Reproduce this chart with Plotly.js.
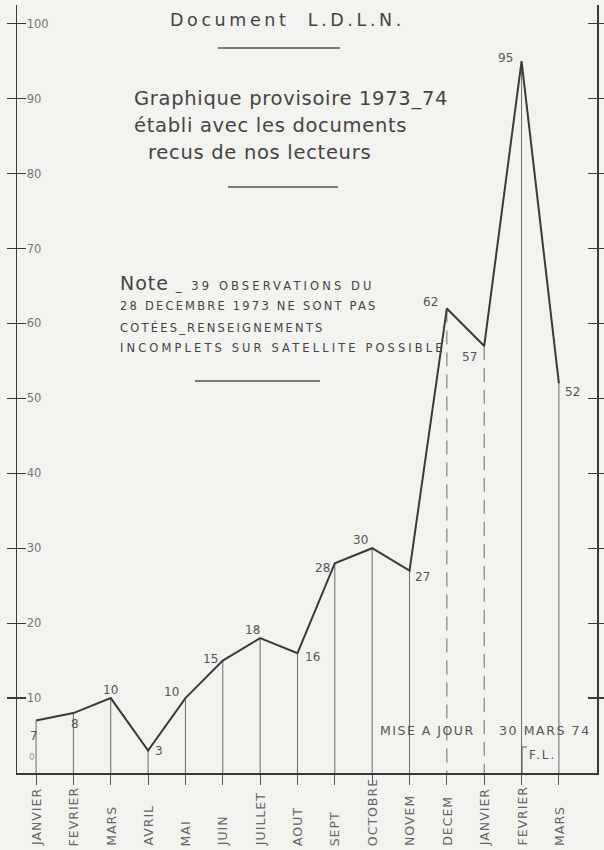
<!DOCTYPE html>
<html>
<head>
<meta charset="utf-8">
<script src="https://cdn.plot.ly/plotly-3.0.1.min.js"></script>
<style>html,body{margin:0;padding:0;background:#f3f3f0;}</style>
</head>
<body>
<div id="chart" style="width:604px;height:850px;"></div>
<script>
// ---- data ----
const months = ["JANVIER","FEVRIER","MARS","AVRIL","MAI","JUIN","JUILLET","AOUT","SEPT","OCTOBRE","NOVEM","DECEM","JANVIER","FEVRIER","MARS"];
const observations = [7, 8, 10, 3, 10, 15, 18, 16, 28, 30, 27, 62, 57, 95, 52];
const yTicks = [10, 20, 30, 40, 50, 60, 70, 80, 90, 100];
const dashedMonths = [11, 12]; // DECEM, JANVIER 74 drawn with broken drop lines

// ---- label offsets (px, style only) ----
const labelShift = [[-2,-15],[2,-11],[0,8],[11,0],[-14,6],[-12,2],[-8,8],[15,-4],[-12,-5],[-12,8],[13,-6],[-16,6],[-15,-11],[-16,3],[14,-9]];

const L = 17, R = 597, T = 5, B = 773, W = 604, H = 850;
const px = x => (x - L) / (R - L);
const py = y => (B - y) / (B - T);

const idx = months.map((m, i) => i);

// drop lines built from data
const solidX = [], solidY = [], dashX = [], dashY = [];
idx.forEach(i => {
  const tx = dashedMonths.includes(i) ? dashX : solidX;
  const ty = dashedMonths.includes(i) ? dashY : solidY;
  tx.push(i, i, null); ty.push(observations[i], 0, null);
});

const traces = [
  {x: solidX, y: solidY, mode: 'lines', line: {color: '#6a6a6a', width: 1}, hoverinfo: 'skip', showlegend: false},
  {x: dashX, y: dashY, mode: 'lines', line: {color: '#6a6a6a', width: 1, dash: '14px,8px'}, hoverinfo: 'skip', showlegend: false},
  {x: idx, y: observations, mode: 'lines', line: {color: '#3a3a3a', width: 2}, showlegend: false},
  {x: [0], y: [0], mode: 'markers', marker: {opacity: 0}, yaxis: 'y2', hoverinfo: 'skip', showlegend: false}
];

const textColor = '#555';
const font = 'DejaVu Sans, sans-serif';
const annotations = [];
const sp = (t, s) => '<span style="letter-spacing:' + s + 'px">' + t + '</span>';

// data labels
idx.forEach(i => {
  annotations.push({x: i, y: observations[i], xref: 'x', yref: 'y', text: String(observations[i]), showarrow: false,
    xshift: labelShift[i][0], yshift: labelShift[i][1], font: {family: font, size: 12, color: textColor}});
});
// rotated month labels
idx.forEach(i => {
  annotations.push({x: i, y: py(848), xref: 'x', yref: 'paper', text: sp(months[i], 1), textangle: -90, showarrow: false,
    xanchor: 'center', yanchor: 'bottom', font: {family: font, size: 12.5, color: '#666'}});
});
// zero label
annotations.push({x: px(27), y: py(764), xref: 'paper', yref: 'paper', text: '0', showarrow: false, font: {family: font, size: 9, color: '#999'}});

// texts
function txt(t, x, y, size, anchor, color) {
  annotations.push({x: px(x), y: py(y), xref: 'paper', yref: 'paper', text: t, showarrow: false,
    xanchor: anchor || 'left', yanchor: 'middle', font: {family: font, size: size, color: color || '#444'}});
}
txt(sp('Document  L.D.L.N.', 3.6), 168, 20, 17.5);
txt(sp('Graphique provisoire 1973_74', 0.7), 132, 98, 19.5);
txt(sp('établi avec les documents', 0.7), 132, 125, 19.5);
txt(sp('recus de nos lecteurs', 0.7), 146, 152, 19.5);
txt(sp('Note', 1) + '<span style="font-size:11.5px;letter-spacing:3.1px"> _ 39 OBSERVATIONS DU</span>', 118, 283, 19);
txt(sp('28 DECEMBRE 1973 NE SONT PAS', 2.2), 118, 306, 11.5);
txt(sp('COTÉES_RENSEIGNEMENTS', 2.2), 118, 327, 11.5);
txt(sp('INCOMPLETS SUR SATELLITE POSSIBLE', 3.1), 118, 348, 11.5);
txt(sp('MISE A JOUR', 1.5), 378, 730, 12.5, 'left', '#555');
txt(sp('30 MARS 74', 1.6), 497, 730, 12.5, 'left', '#555');
txt(sp('F.L.', 2), 527, 755, 12, 'left', '#555');

function hline(x0, x1, y) {
  return {type: 'line', xref: 'paper', yref: 'paper', x0: px(x0), x1: px(x1), y0: py(y), y1: py(y), line: {color: '#555', width: 1.5}};
}
const shapes = [hline(218, 340, 48), hline(228, 338, 187), hline(195, 320, 381),
  {type: 'line', xref: 'paper', yref: 'paper', x0: px(522), x1: px(522), y0: py(773), y1: py(747), line: {color: '#555', width: 1}},
  {type: 'line', xref: 'paper', yref: 'paper', x0: px(522), x1: px(527), y0: py(747), y1: py(747), line: {color: '#555', width: 1}}
];

const layout = {
  width: W, height: H,
  margin: {l: L, r: W - R, t: T, b: H - B, pad: 0},
  paper_bgcolor: '#f3f3f0', plot_bgcolor: '#f3f3f0',
  showlegend: false,
  xaxis: {range: [-0.51, 15.02], tickvals: idx, ticktext: months, showticklabels: false, ticks: 'outside', ticklen: 10,
    tickcolor: '#555', tickwidth: 1, showline: true, linecolor: '#3a3a3a', linewidth: 1.5, showgrid: false, zeroline: false, fixedrange: true},
  yaxis: {range: [0, 102.5], tickvals: yTicks, ticks: 'outside', ticklen: 9, tickcolor: '#3a3a3a', tickwidth: 1.2,
    ticklabelposition: 'inside', ticklabeloverflow: 'allow', ticklabelstandoff: 9, tickfont: {family: font, size: 11.5, color: '#777'},
    showline: true, mirror: 'ticks', linecolor: '#3a3a3a', linewidth: 1.5, showgrid: false, zeroline: false},
  yaxis2: {range: [0, 102.5], overlaying: 'y', side: 'left', tickvals: yTicks, ticks: 'inside', ticklen: 9, tickcolor: '#3a3a3a',
    tickwidth: 1.2, showticklabels: false, mirror: 'ticks', showline: false, showgrid: false, zeroline: false},
  annotations: annotations,
  shapes: shapes
};

Plotly.newPlot('chart', traces, layout, {displayModeBar: false, staticPlot: true});
</script>
</body>
</html>
